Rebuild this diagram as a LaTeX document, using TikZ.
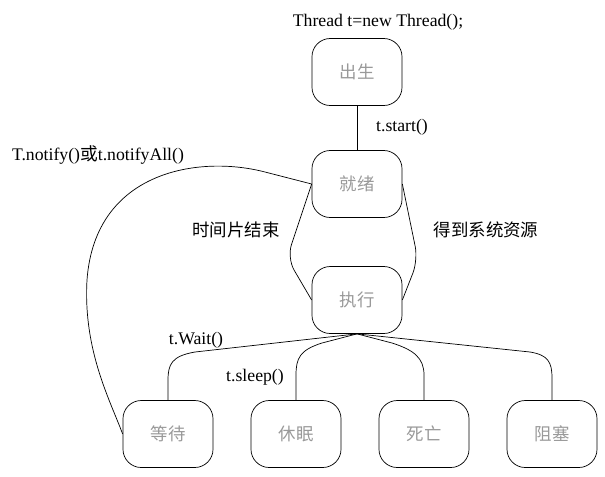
\documentclass[tikz,border=0pt]{standalone}
\usepackage{fontspec}
\setmainfont{Liberation Serif}
\newfontfamily\cjk{Noto Sans CJK SC}

\begin{document}
\begin{tikzpicture}[x=0.025cm, y=-0.025cm, line width=0.5pt,
    state/.style={draw, rounded corners=13pt, minimum width=2.25cm, minimum height=1.675cm,
                  inner sep=0pt, text=black!40, font=\cjk\fontsize{12.4}{14}\selectfont},
    call/.style={inner sep=1pt, font=\fontsize{12.6}{14}\selectfont},
    hint/.style={inner sep=1pt, font=\cjk\fontsize{12.4}{14}\selectfont}
  ]
    \useasboundingbox (0,0) rectangle (605,476);

    % Main column
    \node[call] (new) at (378,22) {Thread t=new Thread();};
    \node[state] (birth) at (357,72) {出生};
    \node[state] (ready) at (357,184) {就绪};
    \node[state] (run) at (357,300) {执行};

    % Bottom row
    \node[state] (wait) at (168,434) {等待};
    \node[state] (sleep) at (296,434) {休眠};
    \node[state] (dead) at (424,434) {死亡};
    \node[state] (block) at (552,434) {阻塞};

    % Start
    \draw (birth) -- (ready);
    \node[call] (start) at (402,127) {t.start()};

    % Ready <-> running
    \draw[rounded corners=10pt] (ready.west) -- (287,258) -- (run.west);
    \draw[rounded corners=10pt] (ready.east) -- (418,260) -- (run.east);
    \node[hint] (slice) at (236,230) {时间片结束};
    \node[hint] (gain) at (486,230) {得到系统资源};

    % Wake up from waiting
    \draw (wait.west) .. controls (110,400) and (83,350) .. (87,280)
          .. controls (95,170) and (200,155) .. (265,172) -- (ready.west);
    \node[call] (notify) at (98,155) {T.notify(){\cjk 或}t.notifyAll()};

    % Branches from running
    \draw (run.south) -- (195,352) .. controls (172,356) and (168,364) .. (168,380) -- (wait.north);
    \draw (run.south) -- (322,343) .. controls (300,350) and (296,358) .. (296,375) -- (sleep.north);
    \draw (run.south) -- (392,343) .. controls (414,350) and (424,358) .. (424,375) -- (dead.north);
    \draw (run.south) -- (530,352) .. controls (548,355) and (552,362) .. (552,378) -- (block.north);
    \node[call] (waitcall) at (196,340) {t.Wait()};
    \node[call] (sleepcall) at (255,377) {t.sleep()};
  \end{tikzpicture}
\end{document}
